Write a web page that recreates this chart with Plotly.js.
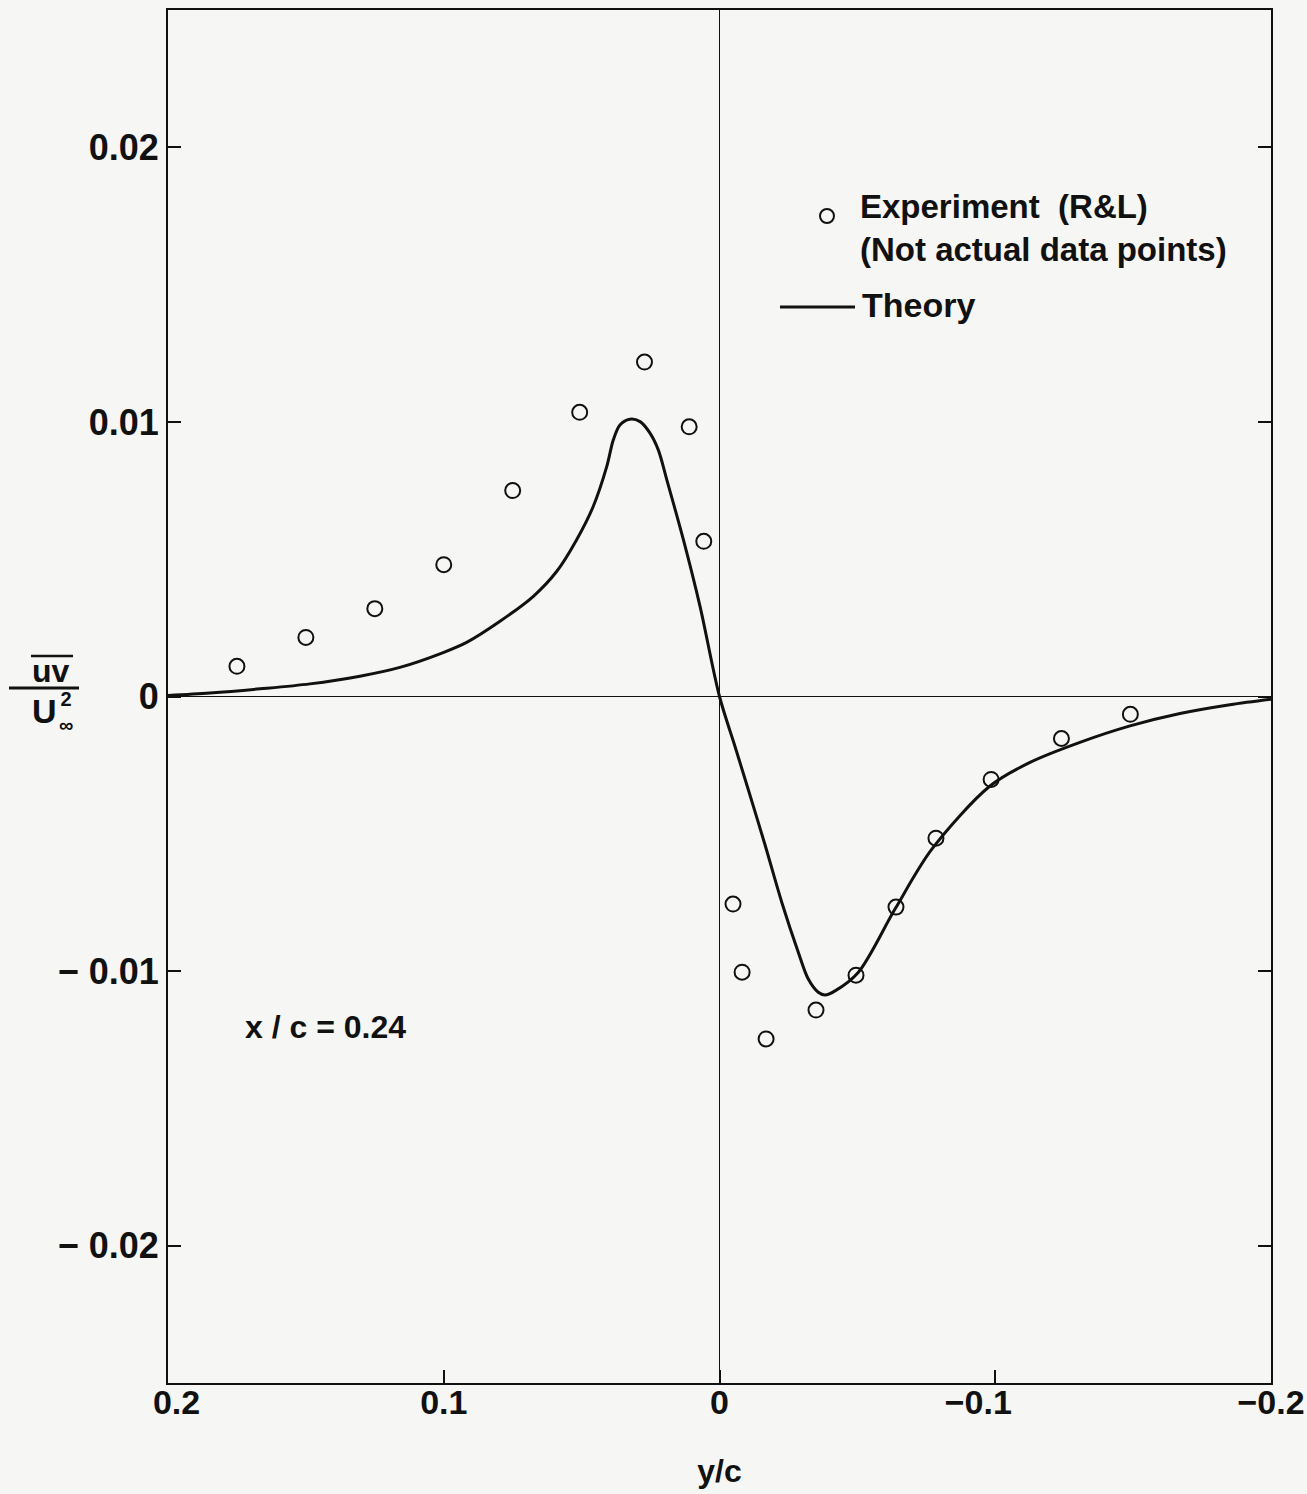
<!DOCTYPE html>
<html>
<head>
<meta charset="utf-8">
<script src="https://cdn.plot.ly/plotly-3.0.1.min.js"></script>
<style>
  html, body { margin: 0; padding: 0; background: #f6f6f4; }
  #chart { width: 1307px; height: 1494px; }
</style>
</head>
<body>
<div id="chart"></div>
<script>
// ---- data ----
const expX = [0.175, 0.15, 0.125, 0.1, 0.075, 0.0507, 0.0272, 0.011, 0.0057,
              -0.0049, -0.0082, -0.0169, -0.035, -0.0495, -0.064, -0.0785, -0.0985, -0.124, -0.149];
const expY = [0.0011, 0.00215, 0.0032, 0.0048, 0.0075, 0.01035, 0.01218, 0.00982, 0.00565,
              -0.00756, -0.01004, -0.01247, -0.01142, -0.01015, -0.00767, -0.00516, -0.00302, -0.00153, -0.00065];

const theoryX = [0.2, 0.1848, 0.1666, 0.1485, 0.1304, 0.1159, 0.1002, 0.0917, 0.0796, 0.0675, 0.059,
                 0.0518, 0.0458, 0.0409, 0.0385, 0.0361, 0.0325, 0.0288, 0.0252, 0.0222, 0.0191,
                 0.0131, 0.0071, 0,
                 -0.0056, -0.0104, -0.0165, -0.0226, -0.0286, -0.0322, -0.0358, -0.0383, -0.0419,
                 -0.0503, -0.0636, -0.077, -0.0981, -0.1126, -0.1307, -0.1489, -0.167, -0.1851, -0.2];
const theoryY = [0.00004, 0.00013, 0.00028, 0.00046, 0.00074, 0.00106, 0.0016, 0.00197, 0.00274, 0.00365, 0.00456,
                 0.00571, 0.00692, 0.00837, 0.00935, 0.00989, 0.0101, 0.01001, 0.00959, 0.00898, 0.00789,
                 0.00571, 0.0033, 0,
                 -0.00181, -0.00338, -0.0054, -0.0075, -0.00932, -0.01029, -0.01077, -0.01087, -0.01072,
                 -0.01005, -0.00775, -0.00556, -0.00326, -0.0024, -0.00167, -0.00107, -0.00062, -0.0003, -0.0001];

const xTickVals = [0.2, 0.1, 0, -0.1, -0.2];
const xTickText = ["\u20020.2", "0.1", "0", "\u22120.1\u2003", "\u22120.2"];
const yTickVals = [0.02, 0.01, 0, -0.01, -0.02];
const yTickText = ["0.02", "0.01", "0", "\u2212 0.01", "\u2212 0.02"];

const legendExp = "Experiment  (R&L)<br>(Not actual data points)";
const legendTheory = "Theory";
const caseLabel = "x / c = 0.24";
const xTitle = "y/c";
const yTitleNum = "uv";
const yTitleDen = "U";
const yTitleSupSub = "2<br>\u221E";

// ---- layout helpers (pixel -> paper) ----
const W = 1307, H = 1494;
const M = {l: 168, r: 36, t: 10, b: 111};
const PW = W - M.l - M.r, PH = H - M.t - M.b;
const px = x => (x - M.l) / PW;
const py = y => (H - M.b - y) / PH;

const FONT = "'Liberation Sans', Arial, Helvetica, sans-serif";
const INK = "#111";

const traces = [
  {
    x: theoryX, y: theoryY, type: "scatter", mode: "lines",
    line: {color: INK, width: 3, shape: "spline", smoothing: 0.9},
    name: legendTheory, showlegend: false, hoverinfo: "x+y"
  },
  {
    x: expX, y: expY, type: "scatter", mode: "markers",
    marker: {symbol: "circle-open", size: 15, color: INK, line: {width: 2, color: INK}},
    name: "Experiment (R&L)", showlegend: false, hoverinfo: "x+y"
  }
];

const ann = (text, x, y, size, opts = {}) => Object.assign({
  text, x: px(x), y: py(y), xref: "paper", yref: "paper",
  showarrow: false, xanchor: "left", yanchor: "middle", align: "left",
  font: {family: FONT, size, color: INK, weight: "bold"}
}, opts);

const layout = {
  width: W, height: H,
  margin: M,
  paper_bgcolor: "#f6f6f4",
  plot_bgcolor: "#f6f6f4",
  showlegend: false,
  font: {family: FONT, color: INK},
  xaxis: {
    range: [0.2, -0.2],
    tickvals: xTickVals, ticktext: xTickText,
    ticks: "inside", ticklen: 13, tickwidth: 2, tickcolor: INK,
    ticklabelstandoff: -12, ticklabeloverflow: "allow",
    showline: true, linewidth: 2, linecolor: INK, mirror: true,
    showgrid: false, zeroline: true, zerolinecolor: INK, zerolinewidth: 1.5,
    tickfont: {family: FONT, size: 34, color: INK, weight: "bold"},
    title: {text: xTitle, font: {family: FONT, size: 32, color: INK, weight: "bold"}, standoff: 40}
  },
  yaxis: {
    range: [-0.025, 0.025],
    tickvals: yTickVals, ticktext: yTickText,
    ticks: "inside", ticklen: 13, tickwidth: 2, tickcolor: INK,
    showline: true, linewidth: 2, linecolor: INK, mirror: "ticks",
    showgrid: false, zeroline: true, zerolinecolor: INK, zerolinewidth: 1.5,
    tickfont: {family: FONT, size: 36, color: INK, weight: "bold"}
  },
  annotations: [
    ann(legendExp, 858, 228, 33),
    ann(legendTheory, 860, 305, 34),
    ann(caseLabel, 325, 1027, 32, {xanchor: "center"}),
    // y-axis title  (uv-bar over U-infinity squared)
    ann(yTitleNum, 51, 671, 32, {xanchor: "center"}),
    ann(yTitleDen, 44, 711, 34, {xanchor: "center"}),
    ann(yTitleSupSub, 66, 712, 20, {xanchor: "center", align: "center"})
  ],
  shapes: [
    // legend symbols
    {type: "circle", xref: "paper", yref: "paper",
     x0: px(820), x1: px(834), y0: py(223), y1: py(209), line: {color: INK, width: 2}},
    {type: "line", xref: "paper", yref: "paper",
     x0: px(780), x1: px(855), y0: py(307), y1: py(307), line: {color: INK, width: 3}},
    // y title overline and fraction bar
    {type: "line", xref: "paper", yref: "paper",
     x0: px(31), x1: px(73), y0: py(656), y1: py(656), line: {color: INK, width: 2.5}},
    {type: "line", xref: "paper", yref: "paper",
     x0: px(9), x1: px(79), y0: py(688), y1: py(688), line: {color: INK, width: 3}}
  ]
};

Plotly.newPlot("chart", traces, layout, {displayModeBar: false, staticPlot: true});
</script>
</body>
</html>
